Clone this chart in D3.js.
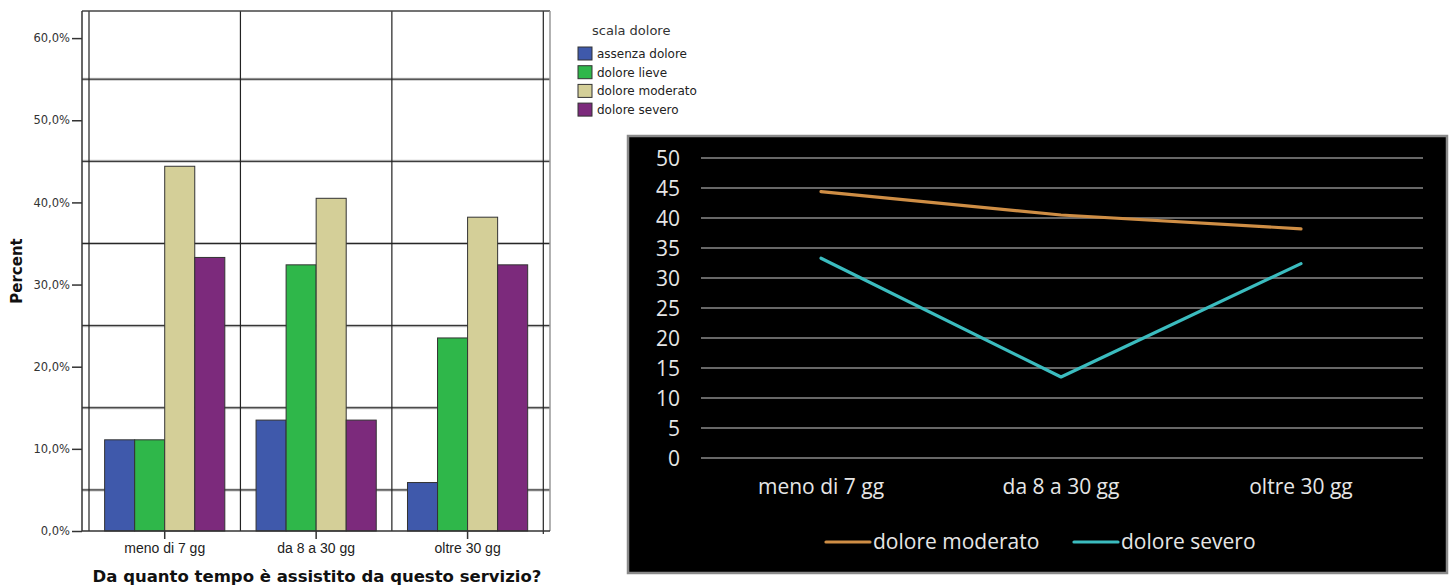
<!DOCTYPE html>
<html>
<head>
<meta charset="utf-8">
<script src="https://cdn.jsdelivr.net/npm/d3@7"></script>
<style>
html,body{margin:0;padding:0;background:#fff;}
svg{display:block;}
</style>
</head>
<body>
<svg id="chart" width="1452" height="585"></svg>
<script>
// ---- data ----
const categories = ["meno di 7 gg", "da 8 a 30 gg", "oltre 30 gg"];
const seriesNames = ["assenza dolore", "dolore lieve", "dolore moderato", "dolore severo"];
const assenzaDolore = [11.1, 13.5, 5.9];
const doloreLieve = [11.1, 32.4, 23.5];
const doloreModerato = [44.4, 40.5, 38.2];
const doloreSevero = [33.3, 13.5, 32.4];
const barTicks = [0, 10, 20, 30, 40, 50, 60];
const barGrid = [5, 15, 25, 35, 45, 55];
const lineTicks = [0, 5, 10, 15, 20, 25, 30, 35, 40, 45, 50];
const lineSeriesNames = ["dolore moderato", "dolore severo"];

const barColors = ["#3f59ab", "#2fb74a", "#d4cf98", "#7c2a7c"];
const lineColors = ["#cf8e45", "#3bbcbf"];

const svg = d3.select("#chart");
const seriesVals = [assenzaDolore, doloreLieve, doloreModerato, doloreSevero];

// ================= LEFT: SPSS bar chart =================
const L = {left: 82, inL: 89, inR: 543.3, right: 550, top: 11, bottom: 531};
const x = d3.scaleBand().domain(categories).range([L.inL, L.inR]);
const xs = d3.scaleBand().domain(seriesNames).range([0, x.bandwidth()]).paddingOuter(0.52);
const y = d3.scaleLinear().domain([0, 63.3]).range([L.bottom, L.top]);

const gL = svg.append("g");
// horizontal grid lines
gL.selectAll("line.hg").data(barGrid).join("line")
  .attr("x1", L.left).attr("x2", L.right)
  .attr("y1", d => y(d)).attr("y2", d => y(d))
  .attr("stroke", "#c4c4c4").attr("stroke-width", 3);
gL.selectAll("line.hg2").data(barGrid).join("line")
  .attr("x1", L.left).attr("x2", L.right)
  .attr("y1", d => y(d)).attr("y2", d => y(d))
  .attr("stroke", "#222").attr("stroke-width", 1);
// vertical band boundaries
const bounds = categories.map(c => x(c)).concat([x(categories[2]) + x.bandwidth()]);
gL.selectAll("line.vg").data(bounds).join("line")
  .attr("x1", d => d).attr("x2", d => d)
  .attr("y1", L.top).attr("y2", (d,i) => i === bounds.length-1 ? L.bottom + 3 : L.bottom)
  .attr("stroke", "#222").attr("stroke-width", 1.2);
// frame
gL.append("line").attr("x1", L.left).attr("x2", L.right).attr("y1", L.top).attr("y2", L.top)
  .attr("stroke", "#444").attr("stroke-width", 1.5);
gL.append("line").attr("x1", L.right).attr("x2", L.right).attr("y1", L.top).attr("y2", L.bottom)
  .attr("stroke", "#999").attr("stroke-width", 1.5);

// bars
categories.forEach((c, ci) => {
  gL.selectAll(null).data(seriesNames).join("rect")
    .attr("x", s => x(c) + xs(s))
    .attr("width", xs.bandwidth())
    .attr("y", (s, si) => y(seriesVals[si][ci]))
    .attr("height", (s, si) => y(0) - y(seriesVals[si][ci]))
    .attr("fill", (s, si) => barColors[si])
    .attr("stroke", "#333").attr("stroke-width", 1);
});

// y axis
const yAxis = d3.axisLeft(y).tickValues(barTicks).tickSize(10).tickPadding(2)
  .tickFormat(d => d3.format(".1f")(d).replace(".", ",") + "%");
const ya = gL.append("g").attr("transform", `translate(${L.left},0)`).call(yAxis);
ya.select(".domain").attr("d", `M0,${L.top}V${L.bottom}`).attr("stroke", "#333").attr("stroke-width", 1.5);
ya.selectAll(".tick line").attr("stroke", "#333").attr("stroke-width", 1.5);
ya.selectAll(".tick text").attr("font-family", "DejaVu Sans, sans-serif").attr("font-size", 11.5).attr("fill", "#333");

// x axis
const xAxis = d3.axisBottom(x).tickSize(8).tickPadding(4);
const xa = gL.append("g").attr("transform", `translate(0,${L.bottom})`).call(xAxis);
xa.select(".domain").attr("d", `M${L.left},0H${L.right}`).attr("stroke", "#333").attr("stroke-width", 1.5);
xa.selectAll(".tick line").attr("stroke", "#333").attr("stroke-width", 1.5);
xa.selectAll(".tick text").attr("font-family", "Liberation Sans, Arial, sans-serif").attr("font-size", 14).attr("fill", "#222");

// axis titles
gL.append("text").attr("transform", "translate(22,271) rotate(-90)")
  .attr("text-anchor", "middle").attr("font-family", "DejaVu Sans, sans-serif")
  .attr("font-weight", "bold").attr("font-size", 15).attr("fill", "#111").text("Percent");
gL.append("text").attr("x", 317).attr("y", 582)
  .attr("text-anchor", "middle").attr("font-family", "DejaVu Sans, sans-serif")
  .attr("font-weight", "bold").attr("font-size", 16.5).attr("fill", "#111")
  .text("Da quanto tempo è assistito da questo servizio?");

// legend
const lg = svg.append("g");
lg.append("text").attr("x", 592).attr("y", 35).attr("font-family", "DejaVu Sans, sans-serif")
  .attr("font-size", 13).attr("fill", "#333").text("scala dolore");
const li = lg.selectAll("g.li").data(seriesNames).join("g")
  .attr("transform", (d, i) => `translate(578,${47 + i * 18.7})`);
li.append("rect").attr("width", 14).attr("height", 13)
  .attr("fill", (d, i) => barColors[i]).attr("stroke", "#333").attr("stroke-width", 1);
li.append("text").attr("x", 19).attr("y", 11).attr("font-family", "DejaVu Sans, sans-serif")
  .attr("font-size", 12).attr("fill", "#222").text(d => d);

// ================= RIGHT: Excel line chart =================
const R = {x0: 628, y0: 136, x1: 1447, y1: 573};
const gR = svg.append("g");
gR.append("rect").attr("x", R.x0).attr("y", R.y0).attr("width", R.x1 - R.x0).attr("height", R.y1 - R.y0)
  .attr("fill", "#000").attr("stroke", "#8a8a8a").attr("stroke-width", 2.5);

const xR = d3.scaleBand().domain(categories).range([701, 1421]);
const yR = d3.scaleLinear().domain([0, 50]).range([458, 158]);

gR.selectAll("line.rg").data(lineTicks).join("line")
  .attr("x1", 701).attr("x2", 1423)
  .attr("y1", d => yR(d)).attr("y2", d => yR(d))
  .attr("stroke", "#8a8a8a").attr("stroke-width", 1.3);

const yAxR = d3.axisLeft(yR).tickValues(lineTicks).tickSize(0).tickPadding(0);
const yr = gR.append("g").attr("transform", "translate(680,0)").call(yAxR);
yr.select(".domain").remove();
yr.selectAll(".tick text").attr("font-family", "Open Sans, sans-serif").attr("font-size", 21)
  .attr("fill", "#e6e6e6").attr("dy", "0.34em");

const xAxR = d3.axisBottom(xR).tickSize(0).tickPadding(0);
const xr = gR.append("g").attr("transform", "translate(0,477)").call(xAxR);
xr.select(".domain").remove();
xr.selectAll(".tick text").attr("font-family", "Open Sans, sans-serif").attr("font-size", 21)
  .attr("fill", "#e6e6e6").attr("dy", "0.8em");

const lineGen = d3.line().x((d, i) => xR(categories[i]) + xR.bandwidth() / 2).y(d => yR(d));
[doloreModerato, doloreSevero].forEach((vals, k) => {
  gR.append("path").datum(vals).attr("d", lineGen)
    .attr("fill", "none").attr("stroke", lineColors[k]).attr("stroke-width", 3.2)
    .attr("stroke-linejoin", "round").attr("stroke-linecap", "round");
});

// legend
const rl = [{x: 826, t: lineSeriesNames[0]}, {x: 1074, t: lineSeriesNames[1]}];
rl.forEach((d, k) => {
  gR.append("line").attr("x1", d.x).attr("x2", d.x + 44).attr("y1", 542).attr("y2", 542)
    .attr("stroke", lineColors[k]).attr("stroke-width", 3.2).attr("stroke-linecap", "round");
  gR.append("text").attr("x", d.x + 47).attr("y", 549).attr("font-family", "Open Sans, sans-serif")
    .attr("font-size", 21).attr("fill", "#e6e6e6").text(d.t);
});
</script>
</body>
</html>
